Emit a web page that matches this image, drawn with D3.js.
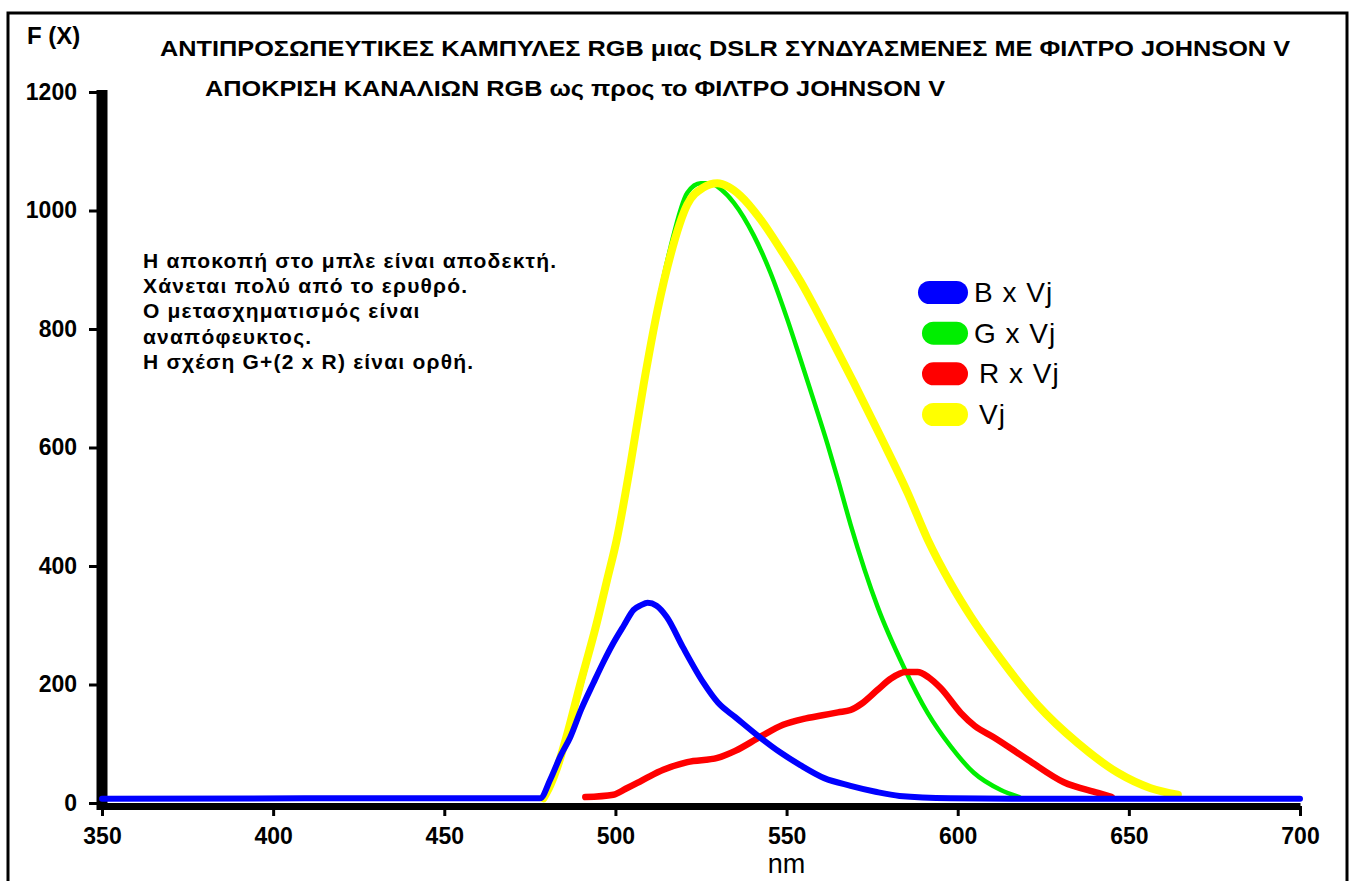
<!DOCTYPE html>
<html>
<head>
<meta charset="utf-8">
<script src="https://cdn.jsdelivr.net/npm/d3@7"></script>
<style>
  body { margin: 0; background: #fff; }
  svg { display: block; font-family: "Liberation Sans", Arial, sans-serif; }
</style>
</head>
<body>
<svg id="chart" width="1355" height="881"></svg>
<script>
const wavelengthTicks = [350, 400, 450, 500, 550, 600, 650, 700];
const fluxTicks = [0, 200, 400, 600, 800, 1000, 1200];

// B x Vj
const blueNm = [350, 440, 478, 481, 484, 486.8, 490, 493.6, 496.5, 499.4, 502.5, 505.3, 507.5, 509.4, 512, 515, 519.7, 525.7, 530, 535, 542.4, 548, 554, 561, 568.7, 576, 583, 598, 620, 700];
const blueVal = [7, 8, 8, 40, 80, 111, 158, 203, 238, 270, 300, 326, 334, 338, 333, 314, 263, 203, 169, 145, 110, 86, 64, 42, 29, 19, 12, 8, 7, 7];

// G x Vj
const greenNm = [479, 481, 483, 486, 489.6, 494.6, 497.5, 500.4, 504.4, 508.2, 512.3, 516.1, 521, 524.9, 527.8, 531, 534.6, 540.4, 545.3, 550.3, 554.1, 557.9, 562, 564.9, 568.7, 576.6, 584.2, 591.2, 598, 604.7, 612.6, 618];
const greenVal = [8, 28, 55, 110, 190, 300, 368, 440, 565, 700, 838, 938, 1030, 1046, 1046, 1035, 1013, 958, 895, 815, 748, 680, 605, 548, 470, 331, 230, 152, 95, 51, 22, 10];

// R x Vj
const redNm = [491.2, 499.4, 503, 506.4, 510, 514, 521, 529.8, 535, 542.4, 549, 555, 560.5, 565, 568.7, 572, 576.6, 580.5, 584.8, 588.3, 591.5, 595, 600.9, 605, 610.5, 620.5, 631, 641, 645];
const redVal = [10, 14, 24, 34, 45, 56, 69, 76, 88, 112, 132, 142, 148, 153, 157, 168, 191, 210, 221, 221, 212, 194, 152, 130, 111, 73, 35, 17, 10];

// Vj
const yellowNm = [479, 481, 483, 486, 489.6, 494.6, 497.5, 500.4, 504.4, 508.2, 512.3, 516.1, 521, 525.5, 529.8, 533, 536.5, 542.4, 548.2, 554.1, 562, 569.6, 577.5, 585.4, 591.2, 598, 603.8, 611.7, 623.4, 635.1, 646.8, 656.4, 664.3];
const yellowVal = [8, 30, 60, 118, 198, 305, 375, 445, 572, 705, 832, 925, 1010, 1038, 1046, 1040, 1025, 985, 935, 880, 795, 710, 618, 523, 445, 370, 315, 250, 165, 101, 51, 25, 14];

const seriesNames = ['B x Vj', 'G x Vj', 'R x Vj', 'Vj'];
const seriesColors = ['#0000ff', '#00ee00', '#ff0000', '#ffff00'];

const titleLines = [
  'ΑΝΤΙΠΡΟΣΩΠΕΥΤΙΚΕΣ ΚΑΜΠΥΛΕΣ  RGB μιας DSLR ΣΥΝΔΥΑΣΜΕΝΕΣ ΜΕ  ΦΙΛΤΡΟ JOHNSON V',
  'ΑΠΟΚΡΙΣΗ ΚΑΝΑΛΙΩΝ RGB ως προς το  ΦΙΛΤΡΟ JOHNSON  V'
];
const noteLines = [
  'Η αποκοπή στο μπλε είναι αποδεκτή.',
  'Χάνεται πολύ από το ερυθρό.',
  'Ο μετασχηματισμός είναι',
  'αναπόφευκτος.',
  'Η σχέση G+(2 x R) είναι ορθή.'
];

const svg = d3.select('#chart');

// outer frame, open at the bottom
svg.append('rect')
  .attr('x', 8).attr('y', 13)
  .attr('width', 1339).attr('height', 900)
  .attr('fill', 'none')
  .attr('stroke', '#000')
  .attr('stroke-width', 3);

const x = d3.scaleLinear().domain([350, 700]).range([102, 1300]);
const y = d3.scaleLinear().domain([0, 1200]).range([803, 92]);

// y axis
const yAxis = svg.append('g')
  .attr('transform', 'translate(102,0)')
  .call(d3.axisLeft(y).tickValues(fluxTicks).tickFormat(d3.format('d')).tickSize(13).tickPadding(12));
yAxis.select('.domain').remove();
yAxis.selectAll('.tick line').attr('stroke', '#000').attr('stroke-width', 3);
yAxis.selectAll('.tick text')
  .attr('fill', '#000')
  .style('font-size', '23px')
  .style('font-weight', 'bold');

svg.append('line')
  .attr('x1', 102).attr('x2', 102)
  .attr('y1', y(1200) - 2).attr('y2', y(0) + 7)
  .attr('stroke', '#000')
  .attr('stroke-width', 11);

// x axis
const xAxis = svg.append('g')
  .attr('transform', `translate(0,${y(0) + 3})`)
  .call(d3.axisBottom(x).tickValues(wavelengthTicks).tickFormat(d3.format('d')).tickSize(10).tickSizeOuter(0).tickPadding(12));
xAxis.select('.domain').attr('stroke', '#000').attr('stroke-width', 7);
xAxis.selectAll('.tick line').attr('stroke', '#000').attr('stroke-width', 3);
xAxis.selectAll('.tick text')
  .attr('fill', '#000')
  .style('font-size', '23px')
  .style('font-weight', 'bold');

svg.append('text')
  .attr('x', x(550)).attr('y', 873)
  .attr('text-anchor', 'middle')
  .style('font-size', '27px')
  .text('nm');

svg.append('text')
  .attr('x', 27).attr('y', 44)
  .style('font-size', '24px')
  .style('font-weight', 'bold')
  .text('F (X)');

// titles
svg.append('text')
  .attr('x', 160).attr('y', 56)
  .attr('textLength', 1130).attr('lengthAdjust', 'spacingAndGlyphs')
  .style('font-size', '22px').style('font-weight', 'bold')
  .text(titleLines[0]);
svg.append('text')
  .attr('x', 205).attr('y', 96)
  .attr('textLength', 740).attr('lengthAdjust', 'spacingAndGlyphs')
  .style('font-size', '22px').style('font-weight', 'bold')
  .text(titleLines[1]);

// notes
svg.append('g')
  .selectAll('text')
  .data(noteLines)
  .join('text')
  .attr('x', 143)
  .attr('y', (d, i) => 268 + i * 25.2)
  .style('font-size', '21px')
  .style('font-weight', 'bold')
  .style('letter-spacing', '1.2px')
  .text(d => d);

// curves
const line = d3.line()
  .x(d => x(d[0]))
  .y(d => y(d[1]))
  .curve(d3.curveMonotoneX);

const pairs = (nm, val) => nm.map((n, i) => [n, val[i]]);

const curves = [
  { data: pairs(greenNm, greenVal), color: seriesColors[1], width: 4.5 },
  { data: pairs(yellowNm, yellowVal), color: seriesColors[3], width: 8 },
  { data: pairs(redNm, redVal), color: seriesColors[2], width: 6.5 },
  { data: pairs(blueNm, blueVal), color: seriesColors[0], width: 6 }
];

svg.append('g')
  .selectAll('path')
  .data(curves)
  .join('path')
  .attr('d', d => line(d.data))
  .attr('fill', 'none')
  .attr('stroke', d => d.color)
  .attr('stroke-width', d => d.width)
  .attr('stroke-linecap', 'round')
  .attr('stroke-linejoin', 'round');

// legend
const legendY = d3.scalePoint().domain(seriesNames).range([292, 414]);
const legend = svg.append('g')
  .selectAll('g')
  .data(seriesNames)
  .join('g')
  .attr('transform', d => `translate(0,${legendY(d)})`);

legend.append('rect')
  .attr('x', (d, i) => i === 0 ? 918 : 922)
  .attr('y', -11)
  .attr('width', (d, i) => i === 0 ? 50 : 46)
  .attr('height', 23)
  .attr('rx', 11.5)
  .attr('fill', (d, i) => seriesColors[i]);

legend.append('text')
  .attr('x', (d, i) => i < 2 ? 974 : 979)
  .attr('y', 10)
  .style('font-size', '28px')
  .style('letter-spacing', '1px')
  .text(d => d);
</script>
</body>
</html>
